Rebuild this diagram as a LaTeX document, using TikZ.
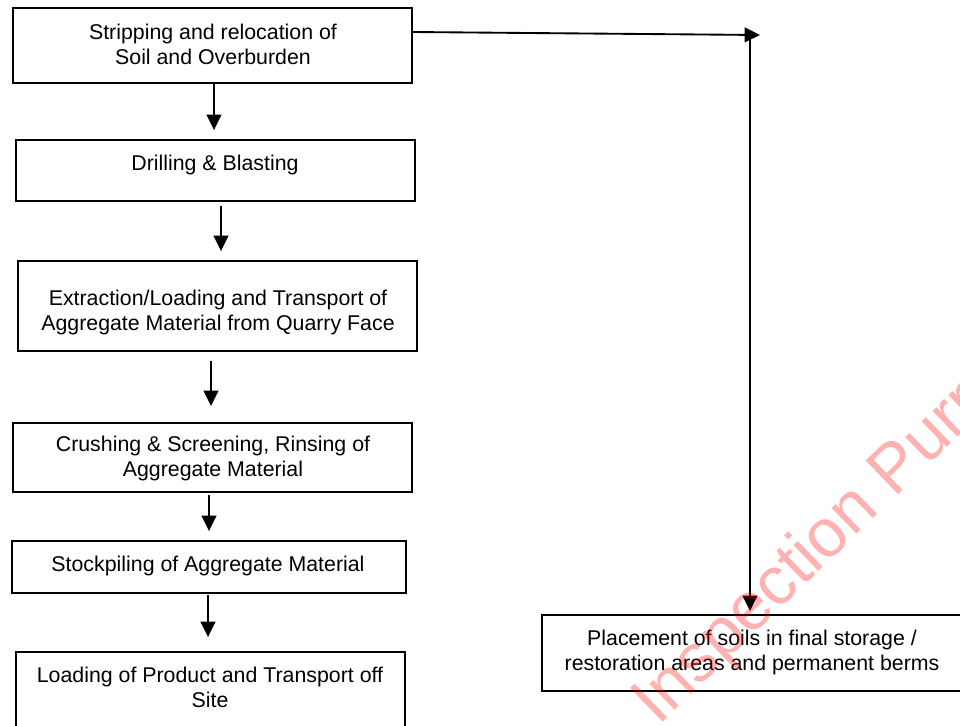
\documentclass[tikz,border=0pt]{standalone}
\usepackage{fontspec}
\setmainfont{Liberation Sans}
\usetikzlibrary{arrows.meta}
\tikzset{
  boxnode/.style={draw, line width=1.4pt, inner sep=0pt, minimum width=#1},
  lbl/.style={align=center, inner sep=0pt, font=\fontsize{16pt}{18.75pt}\selectfont},
  arr/.style={line width=1.4pt, -{Triangle[length=11.5pt,width=11pt]}},
  wmark/.style={text=red, opacity=0.3, font=\fontsize{51pt}{60pt}\selectfont, inner sep=0pt, anchor=base west, rotate=44}
}
\begin{document}
\begin{tikzpicture}[x=0.75pt,y=-0.75pt]
\clip (0,0) rectangle (960,725);
\fill[white] (0,0) rectangle (960,725);
% boxes
\node[boxnode=399*0.75pt, minimum height=75*0.75pt] (s1) at (212.5,45.5) {};
\node[boxnode=399*0.75pt, minimum height=61*0.75pt] (s2) at (215.5,170.5) {};
\node[boxnode=399*0.75pt, minimum height=90*0.75pt] (s3) at (217.5,306) {};
\node[boxnode=399*0.75pt, minimum height=69*0.75pt] (s4) at (212.5,457.5) {};
\node[boxnode=394*0.75pt, minimum height=52*0.75pt] (s5) at (209,567) {};
\node[boxnode=389*0.75pt, minimum height=76*0.75pt] (s6) at (210.5,690) {};
\node[boxnode=420*0.75pt, minimum height=76*0.75pt] (s7) at (752,653) {};
% texts
\node[lbl] (t1) at (213,44) {Stripping and relocation of\\Soil and Overburden};
\node[lbl] (t2) at (215,165) {Drilling \& Blasting};
\node[lbl] (t3) at (218,312) {Extraction/Loading and Transport of\\Aggregate Material from Quarry Face};
\node[lbl] (t4) at (213,458) {Crushing \& Screening, Rinsing of\\Aggregate Material};
\node[lbl] (t5) at (208,566) {Stockpiling of Aggregate Material};
\node[lbl] (t6) at (210,687) {Loading of Product and Transport off\\Site};
\node[lbl] (t7) at (752,652) {Placement of soils in final storage /\\restoration areas and permanent berms};
% x positions of vertical arrows
\coordinate (x1) at (214,0);
\coordinate (x2) at (221,0);
\coordinate (x3) at (211,0);
\coordinate (x4) at (209,0);
\coordinate (x5) at (208,0);
\draw[arr, shorten >=6.75pt] (s1.south -| x1) -- (s2.north -| x1);
\draw[arr, shorten <=3pt, shorten >=6.75pt] (s2.south -| x2) -- (s3.north -| x2);
\draw[arr, shorten <=6.75pt, shorten >=12pt] (s3.south -| x3) -- (s4.north -| x3);
\draw[arr, shorten <=1.5pt, shorten >=6.75pt] (s4.south -| x4) -- (s5.north -| x4);
\draw[arr, shorten <=0.75pt, shorten >=10.5pt] (s5.south -| x5) -- (s6.north -| x5);
% side route
\coordinate (c1) at (412,32);
\coordinate (c2) at (760,35);
\coordinate (c3) at (750,36);
\draw[arr] (s1.east |- c1) -- (c2);
\draw[arr, shorten >=2.25pt] (c3) -- (s7.north -| c3);
% watermark
\node[wmark] (wm) at (658,727) {Inspection Purposes Only};
\end{tikzpicture}
\end{document}
